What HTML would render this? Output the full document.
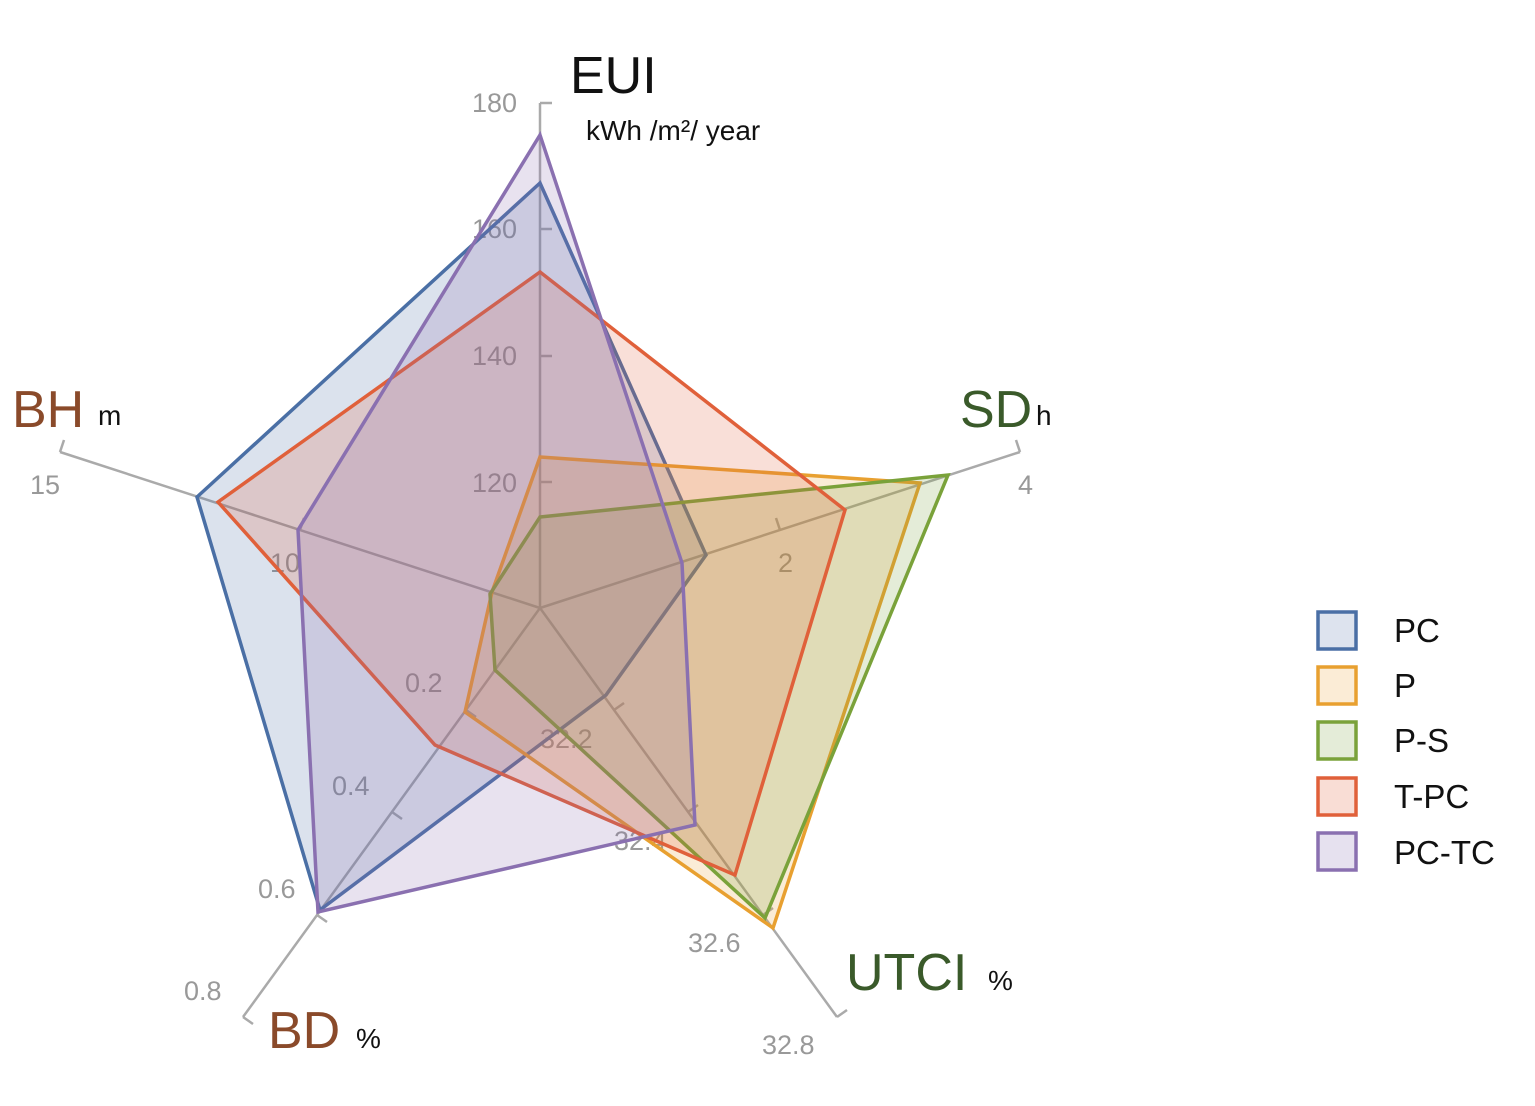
<!DOCTYPE html>
<html><head><meta charset="utf-8"><style>
html,body{margin:0;padding:0;background:#fff;}
svg{display:block;font-family:"Liberation Sans",sans-serif;}
</style></head><body>
<svg width="1535" height="1106" viewBox="0 0 1535 1106" xmlns="http://www.w3.org/2000/svg">
<g stroke="#aaa" stroke-width="2.5" fill="none">
<line x1="540" y1="608" x2="540" y2="103"/><line x1="540" y1="103" x2="552" y2="103"/>
<line x1="540" y1="482" x2="552" y2="482"/><line x1="540" y1="356" x2="552" y2="356"/><line x1="540" y1="229" x2="552" y2="229"/>
<line x1="540" y1="608" x2="1020" y2="452"/><line x1="1020" y1="452" x2="1016" y2="440"/>
<line x1="780" y1="530" x2="776" y2="518"/>
<line x1="540" y1="608" x2="837" y2="1017"/><line x1="837" y1="1017" x2="847" y2="1010"/>
<line x1="614" y1="710" x2="624" y2="703"/><line x1="688" y1="812" x2="698" y2="805"/><line x1="763" y1="915" x2="773" y2="908"/>
<line x1="540" y1="608" x2="243" y2="1017"/><line x1="243" y1="1017" x2="253" y2="1024"/>
<line x1="466" y1="710" x2="476" y2="717"/><line x1="392" y1="812" x2="402" y2="819"/><line x1="317" y1="915" x2="327" y2="922"/>
<line x1="540" y1="608" x2="60" y2="452"/><line x1="60" y1="452" x2="64" y2="440"/>
<line x1="300" y1="530" x2="304" y2="518"/>
</g>
<g font-size="27" fill="#999">
<text x="472" y="112">180</text><text x="472" y="238">160</text><text x="472" y="365">140</text><text x="472" y="492">120</text>
<text x="1018" y="494">4</text><text x="778" y="572">2</text>
<text x="30" y="494">15</text><text x="270" y="572">10</text>
<text x="405" y="692">0.2</text><text x="332" y="795">0.4</text><text x="258" y="898">0.6</text><text x="184" y="1000">0.8</text>
<text x="540" y="748">32.2</text><text x="614" y="850">32.4</text><text x="688" y="952">32.6</text><text x="762" y="1054">32.8</text>
</g>
<g stroke-width="3.5" stroke-linejoin="miter">
<polygon points="540,183 706,555 606,695 320,910 197,497" fill="#4a6fa5" fill-opacity="0.2" stroke="#4a6fa5"/>
<polygon points="540,457 920,483 773,928 465,712 492,592" fill="#e8a030" fill-opacity="0.2" stroke="#e8a030"/>
<polygon points="540,517 948,475 765,918 495,670 490,594" fill="#7aa23a" fill-opacity="0.2" stroke="#7aa23a"/>
<polygon points="540,272 845,510 735,875 435,745 218,502" fill="#e0603a" fill-opacity="0.2" stroke="#e0603a"/>
<polygon points="540,135 682,563 695,825 318,912 298,530" fill="#8a70b0" fill-opacity="0.2" stroke="#8a70b0"/>
</g>
<text x="570" y="93" font-size="52" fill="#111">EUI</text>
<text x="586" y="140" font-size="28" fill="#111">kWh /m²/ year</text>
<text x="12" y="427" font-size="52" fill="#8a4a2a">BH</text><text x="98" y="425" font-size="28" fill="#111">m</text>
<text x="960" y="427" font-size="52" fill="#3a5a2a">SD</text><text x="1036" y="425" font-size="28" fill="#111">h</text>
<text x="846" y="990" font-size="52" fill="#3a5a2a">UTCI</text><text x="988" y="990" font-size="28" fill="#111">%</text>
<text x="268" y="1048" font-size="52" fill="#8a4a2a">BD</text><text x="356" y="1048" font-size="28" fill="#111">%</text>
<g stroke-width="3.5">
<rect x="1318" y="612" width="38" height="37" fill="#dde3ee" stroke="#4a6fa5"/>
<rect x="1318" y="667" width="38" height="37" fill="#fbecd6" stroke="#e8a030"/>
<rect x="1318" y="722" width="38" height="37" fill="#e4ecd8" stroke="#7aa23a"/>
<rect x="1318" y="778" width="38" height="37" fill="#f9ddd5" stroke="#e0603a"/>
<rect x="1318" y="833" width="38" height="37" fill="#e6e1ef" stroke="#8a70b0"/>
</g>
<g font-size="33" fill="#111">
<text x="1394" y="642">PC</text><text x="1394" y="697">P</text><text x="1394" y="752">P-S</text><text x="1394" y="808">T-PC</text><text x="1394" y="864">PC-TC</text>
</g>
</svg>
</body></html>
